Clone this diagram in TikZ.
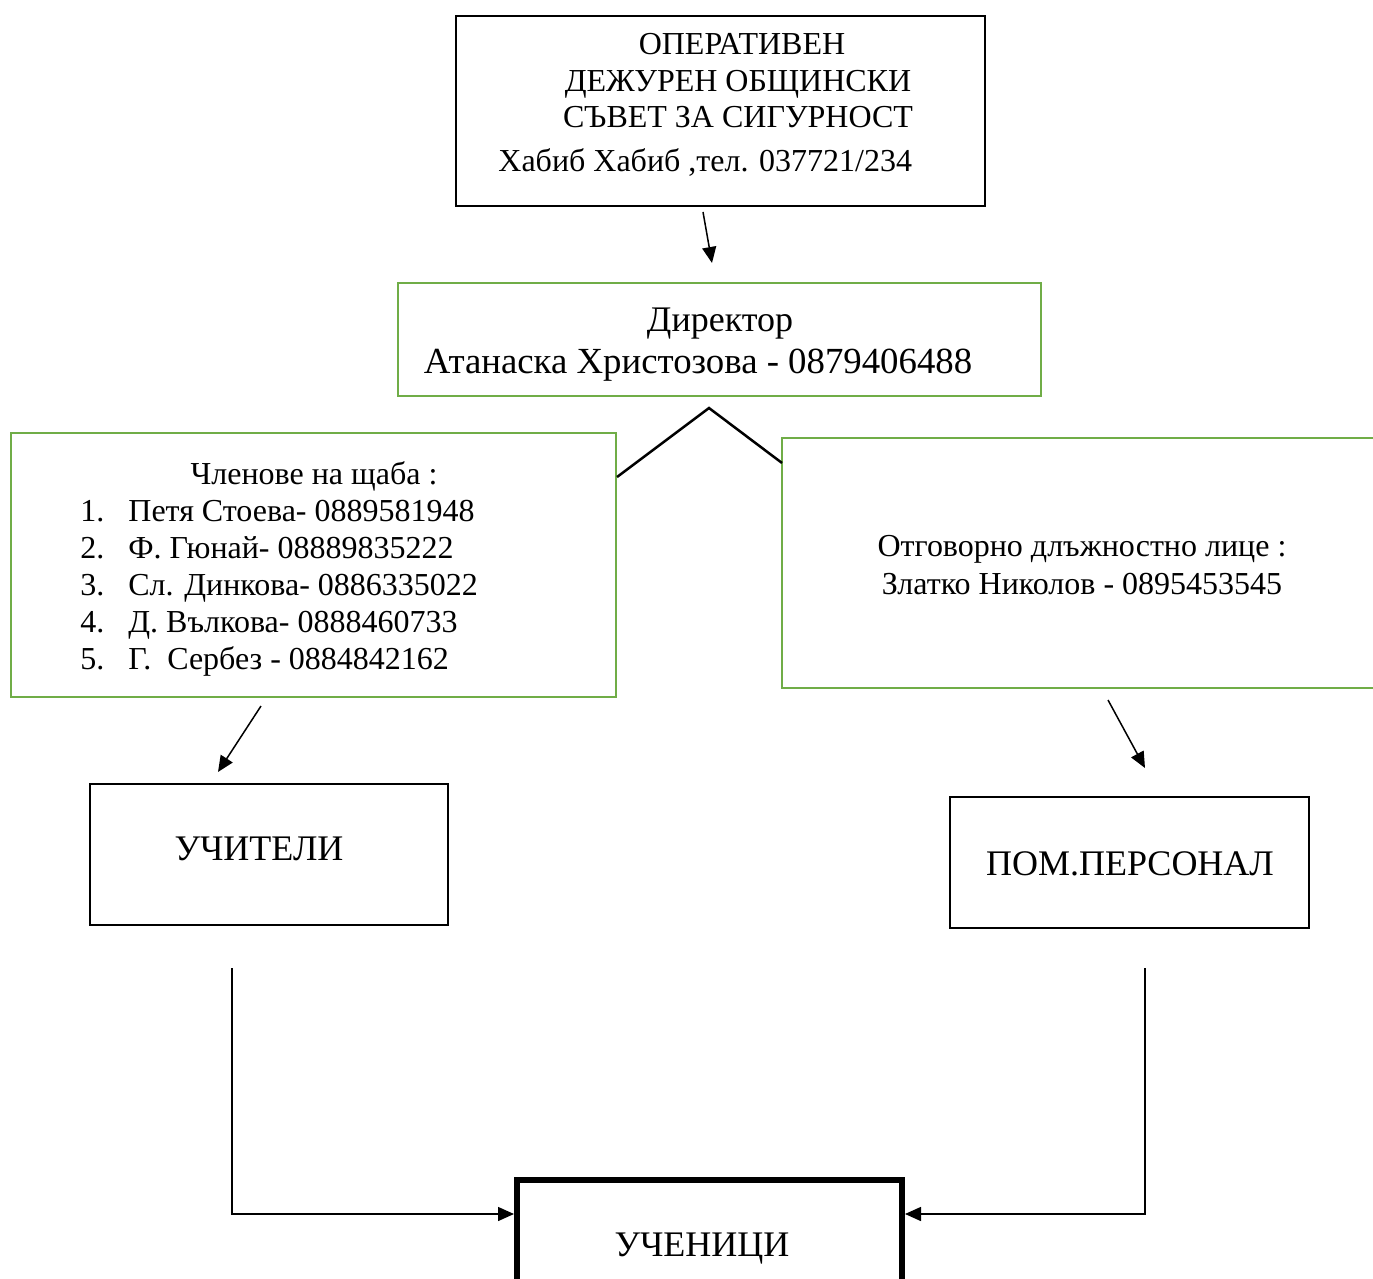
\documentclass[tikz,border=0pt]{standalone}
\usepackage{fontspec}
\setmainfont{Liberation Serif}
\usetikzlibrary{arrows.meta,fit}
\definecolor{boxgreen}{HTML}{70AD47}

\tikzset{
  blackbox/.style={draw=black,line width=0.75pt,inner sep=0pt},
  greenbox/.style={draw=boxgreen,line width=1.4pt,inner sep=0pt},
  heavybox/.style={draw=black,line width=2.8pt,inner sep=0pt},
  txtmid/.style={anchor=base,inner sep=0pt,font=\fontsize{16}{19}\selectfont},
  txtbig/.style={anchor=base,inner sep=0pt,font=\fontsize{18}{21}\selectfont},
  link/.style={line width=0.75pt,-{Triangle[length=8pt,width=7pt]}}
}

\begin{document}
\begin{tikzpicture}[x=0.5pt,y=-0.5pt]
        \useasboundingbox (0,0) rectangle (1373,1279);
        \clip (0,0) rectangle (1373,1279);

        % boxes
        \node [blackbox,fit={(456,16) (985,206)}] (ods) {};
        \node [greenbox,fit={(398,283) (1041,396)}] (dir) {};
        \node [greenbox,fit={(11,433) (616,697)}] (staff) {};
        \node [greenbox,fit={(782,438) (1390,688)}] (resp) {};
        \node [blackbox,fit={(90,784) (448,925)}] (teach) {};
        \node [blackbox,fit={(950,797) (1309,928)}] (aux) {};
        \node [heavybox,fit={(517,1180) (902,1300)}] (pupils) {};

        % texts
        \node [txtmid] (odsA) at (742,55) {ОПЕРАТИВЕН};
        \node [txtmid] (odsB) at (738,92) {ДЕЖУРЕН ОБЩИНСКИ};
        \node [txtmid] (odsC) at (738,128) {СЪВЕТ ЗА СИГУРНОСТ};
        \node [txtmid,anchor=base west] (odsD) at (498,172) {Хабиб Хабиб ,тел. 037721/234};

        \node [txtbig] (dirA) at (720,331) {Директор};
        \node [txtbig,font=\fontsize{18.4}{21}\selectfont] (dirB) at (698,373) {Атанаска Христозова - 0879406488};

        \node [txtmid] (staffT) at (314,484) {Членове на щаба :};
        \node [txtmid,anchor=base west] (n1) at (80,521) {1.};
        \node [txtmid,anchor=base west] (s1) at (128,521) {Петя Стоева- 0889581948};
        \node [txtmid,anchor=base west] (n2) at (80,558) {2.};
        \node [txtmid,anchor=base west] (s2) at (128,558) {Ф. Гюнай- 08889835222};
        \node [txtmid,anchor=base west] (n3) at (80,595) {3.};
        \node [txtmid,anchor=base west] (s3) at (128,595) {Сл. Динкова- 0886335022};
        \node [txtmid,anchor=base west] (n4) at (80,632) {4.};
        \node [txtmid,anchor=base west] (s4) at (128,632) {Д. Вълкова- 0888460733};
        \node [txtmid,anchor=base west] (n5) at (80,669) {5.};
        \node [txtmid,anchor=base west] (s5) at (128,669) {Г.\ \ Сербез - 0884842162};

        \node [txtmid] (respA) at (1082,556) {Отговорно длъжностно лице :};
        \node [txtmid] (respB) at (1082,594) {Златко Николов - 0895453545};

        \node [txtbig] (teachT) at (259,860) {УЧИТЕЛИ};
        \node [txtbig] (auxT) at (1130,875) {ПОМ.ПЕРСОНАЛ};
        \node [txtbig] (pupilsT) at (702,1256) {УЧЕНИЦИ};

        % connector ends
        \coordinate (odsOut) at (703,212);
        \coordinate (dirIn) at (712,263);
        \coordinate (chevL) at (617,477);
        \coordinate (chevTop) at (709,408);
        \coordinate (chevR) at (782,463);
        \coordinate (staffOut) at (261,706);
        \coordinate (teachIn) at (218,772);
        \coordinate (respOut) at (1108,700);
        \coordinate (auxIn) at (1145,768);
        \coordinate (teachOut) at (232,968);
        \coordinate (auxOut) at (1145,968);
        \coordinate (pupilsL) at (514,1214);
        \coordinate (pupilsR) at (905,1214);

        % connectors
        \draw [link] (odsOut) -- (dirIn);
        \draw [line width=1.25pt] (chevL) -- (chevTop) -- (chevR);
        \draw [link] (staffOut) -- (teachIn);
        \draw [link] (respOut) -- (auxIn);
        \draw [link] (teachOut) |- (pupilsL);
        \draw [link] (auxOut) |- (pupilsR);
    \end{tikzpicture}
\end{document}
